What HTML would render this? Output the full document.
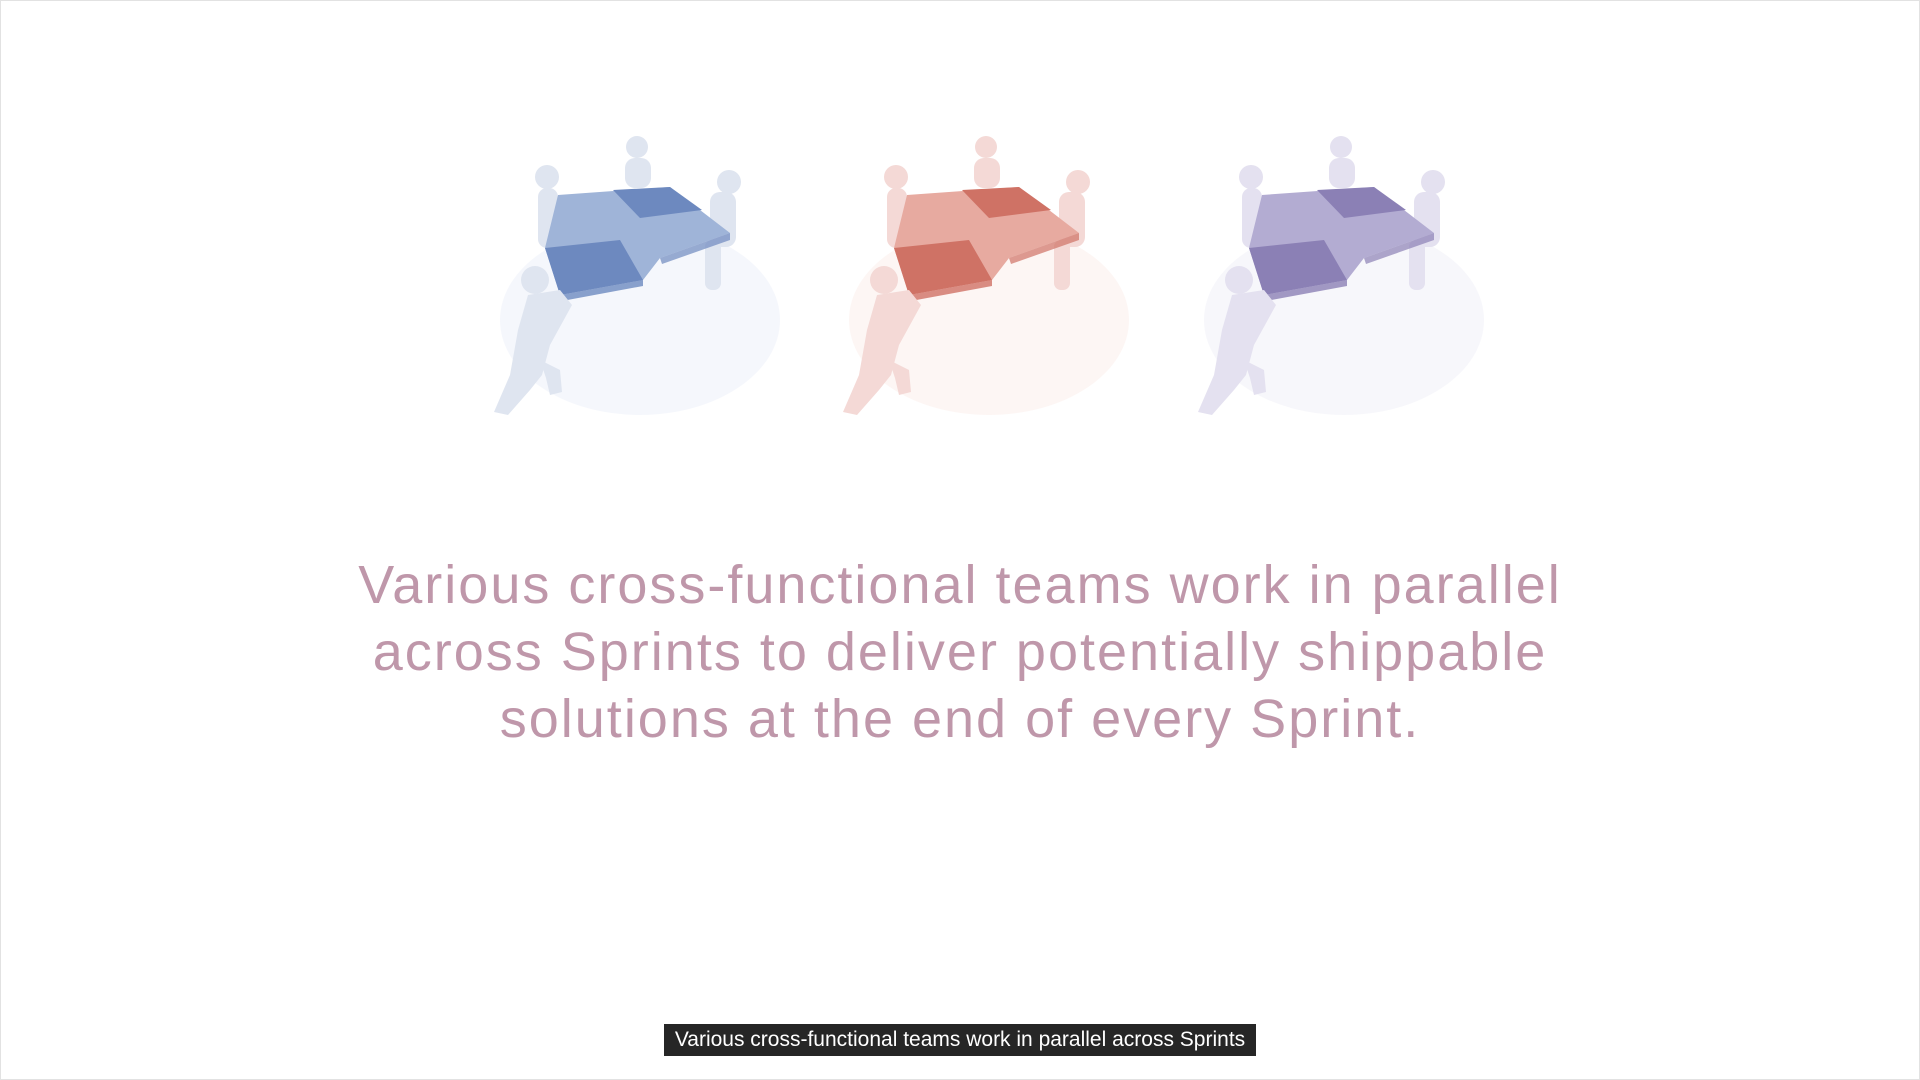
<!DOCTYPE html>
<html><head><meta charset="utf-8"><style>
html,body{margin:0;padding:0;width:1920px;height:1080px;overflow:hidden;background:#fff;}
#frame{position:absolute;left:0;top:0;width:1918px;height:1078px;border:1px solid #e2e2e2;}
#msg{position:absolute;left:0;width:1920px;top:552px;text-align:center;font-family:"Liberation Sans",sans-serif;font-size:54px;line-height:67px;color:#bf97aa;letter-spacing:2px;}
#cap{position:absolute;left:664px;top:1024px;width:592px;height:32px;background:#262626;color:#fff;font-family:"Liberation Sans",sans-serif;font-size:21px;line-height:32px;text-align:center;}
</style></head><body>
<div id="frame"></div>
<svg width="1920" height="1080" style="position:absolute;left:0;top:0">
<defs>
<g id="scene">
<ellipse cx="160" cy="190" rx="140" ry="95" fill="var(--shade)" opacity="0.3"/>
<rect x="145" y="28" width="26" height="30" rx="10" fill="var(--ppl)"/>
<circle cx="157" cy="17" r="11" fill="var(--ppl)"/>
<rect x="58" y="58" width="20" height="60" rx="9" fill="var(--ppl)"/>
<circle cx="67" cy="47" r="12" fill="var(--ppl)"/>
<rect x="230" y="62" width="26" height="55" rx="10" fill="var(--ppl)"/>
<rect x="225" y="110" width="16" height="50" rx="7" fill="var(--ppl)"/>
<circle cx="249" cy="52" r="12" fill="var(--ppl)"/>
<polygon points="78,65 190,57 250,103 180,128 163,150 80,165 65,118" fill="var(--light)"/>
<polygon points="133,60 190,57 222,80 160,88" fill="var(--dark)"/>
<polygon points="65,118 140,110 163,150 80,165" fill="var(--dark)"/>
<polygon points="180,128 250,103 250,110 182,134" fill="var(--dark)" opacity="0.7"/>
<polygon points="80,165 163,150 163,156 82,171" fill="var(--dark)" opacity="0.8"/>
<circle cx="55" cy="150" r="14" fill="var(--ppl)"/>
<polygon points="48,165 80,160 92,175 70,215 62,245 50,260 28,285 14,282 30,245 38,200" fill="var(--ppl)"/>
<polygon points="60,230 80,240 82,262 70,265 66,248" fill="var(--ppl)"/>
</g>
</defs>
<use href="#scene" transform="translate(480,130)" style="--ppl:#dfe5f0;--light:#9fb4d8;--dark:#6d89bf;--shade:#dfe6f4"/>
<use href="#scene" transform="translate(829,130)" style="--ppl:#f4d9d6;--light:#e7aaa0;--dark:#cf7265;--shade:#f8e0dc"/>
<use href="#scene" transform="translate(1184,130)" style="--ppl:#e4e1f0;--light:#b3acd2;--dark:#8b80b5;--shade:#e6e3f2"/>
</svg>
<div id="msg">Various cross-functional teams work in parallel<br>across Sprints to deliver potentially shippable<br>solutions at the end of every Sprint.</div>
<div id="cap">Various cross-functional teams work in parallel across Sprints</div>
</body></html>
